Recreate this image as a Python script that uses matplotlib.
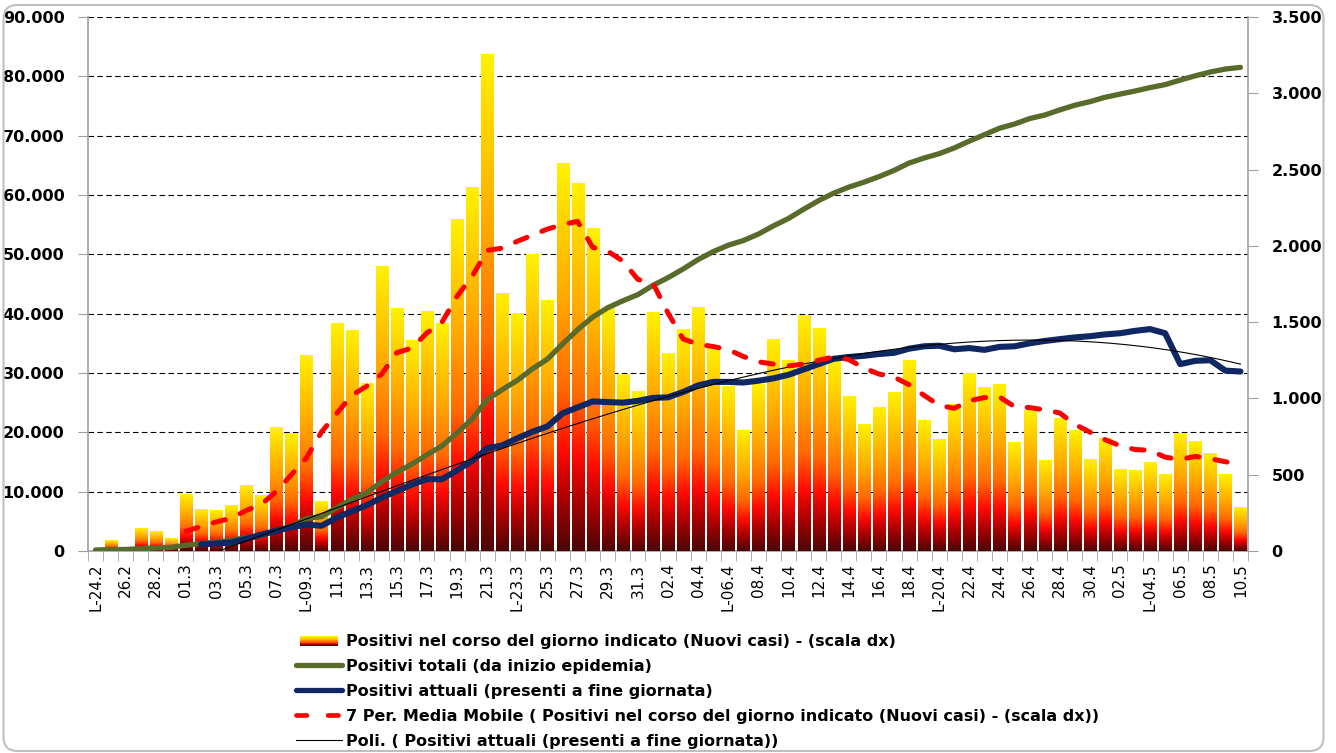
import numpy as np
import matplotlib.pyplot as plt
from matplotlib.colors import LinearSegmentedColormap
from matplotlib.patches import Rectangle, FancyBboxPatch
from matplotlib.lines import Line2D
from matplotlib.legend_handler import HandlerBase
from matplotlib.ticker import FuncFormatter, MultipleLocator
from matplotlib.transforms import IdentityTransform

# ---- dati (24.2 -> 10.5) ----
etichette = ['L-24.2', '26.2', '28.2', '01.3', '03.3', '05.3', '07.3', 'L-09.3',
             '11.3', '13.3', '15.3', '17.3', '19.3', '21.3', 'L-23.3', '25.3',
             '27.3', '29.3', '31.3', '02.4', '04.4', 'L-06.4', '08.4', '10.4',
             '12.4', '14.4', '16.4', '18.4', 'L-20.4', '22.4', '24.4', '26.4',
             '28.4', '30.4', '02.5', 'L-04.5', '06.5', '08.5', '10.5']

# positivi nel corso del giorno (scala dx)
nuovi = [0, 68, 18, 145, 128, 84, 369, 270, 266, 300, 431, 361, 808, 769, 1280,
         322, 1489, 1445, 1095, 1865, 1587, 1377, 1571, 1493, 2171, 2380, 3251,
         1691, 1555, 1942, 1643, 2543, 2409, 2117, 1592, 1154, 1047, 1565, 1292,
         1455, 1598, 1337, 1079, 791, 1089, 1388, 1246, 1544, 1460, 1240, 1012,
         827, 941, 1041, 1246, 854, 729, 960, 1161, 1073, 1091, 711, 920, 590,
         869, 787, 600, 739, 535, 526, 577, 500, 767, 719, 641, 502, 282]

# positivi totali (scala sx)
totali = [172, 240, 258, 403, 531, 615, 984, 1254, 1520, 1820, 2251, 2612, 3420,
          4189, 5469, 5791, 7280, 8725, 9820, 11685, 13272, 14649, 16220, 17713,
          19884, 22264, 25515, 27206, 28761, 30703, 32346, 34889, 37298, 39415,
          41007, 42161, 43208, 44773, 46065, 47520, 49118, 50455, 51534, 52325,
          53414, 54802, 56048, 57592, 59052, 60314, 61326, 62153, 63094, 64135,
          65381, 66235, 66964, 67924, 69085, 70158, 71249, 71960, 72880, 73470,
          74339, 75126, 75726, 76465, 77000, 77526, 78103, 78603, 79370, 80089,
          80730, 81232, 81514]

# positivi attuali (scala sx), dal 02.3
attuali = [np.nan] * 7 + [
    1130, 1250, 1450, 2050, 2750, 3400, 4000, 4450, 4250, 5600, 6700, 7700,
    9000, 10100, 11200, 12100, 12100, 13600, 15200, 17300, 17800, 19000, 20100,
    21000, 23200, 24200, 25200, 25100, 25000, 25300, 25800, 25900, 26800, 27900,
    28500, 28500, 28400, 28700, 29100, 29700, 30600, 31500, 32400, 32700, 32900,
    33200, 33400, 34100, 34500, 34600, 34000, 34200, 33900, 34400, 34500, 35000,
    35400, 35700, 36000, 36200, 36500, 36700, 37100, 37400, 36700, 31500, 32050,
    32150, 30400, 30250]

# media mobile 7 giorni dei nuovi casi (scala dx), dal 01.3
media7 = [np.nan] * 6 + [
    130, 160, 190, 215, 265, 305, 390, 500, 610, 780, 900, 1020, 1080, 1160,
    1300, 1330, 1430, 1500, 1670, 1800, 1970, 1985, 2030, 2070, 2110, 2140,
    2160, 1990, 1965, 1900, 1780, 1755, 1560, 1390, 1355, 1340, 1320, 1275,
    1240, 1225, 1213, 1225, 1250, 1272, 1255, 1200, 1160, 1140, 1090, 1020,
    955, 935, 985, 1005, 1010, 946, 940, 925, 905, 830, 780, 730, 690, 665,
    660, 615, 600, 620, 605, 585, 565]

x = np.arange(len(nuovi))
att = np.array(attuali, dtype=float)

# trendline polinomiale su positivi attuali
ok = ~np.isnan(att)
coef = np.polyfit(x[ok], att[ok], 3)
x_fit = np.linspace(x[ok][0], x[ok][-1], 200)
y_fit = np.polyval(coef, x_fit)

grad_cmap = LinearSegmentedColormap.from_list('barre', [
    (0.0, '#FFF200'), (0.35, '#FFA800'), (0.58, '#FF6A00'),
    (0.74, '#FF0A00'), (0.87, '#A80000'), (1.0, '#4A0606')])

fmt = FuncFormatter(lambda v, p: f'{int(v):,}'.replace(',', '.'))

fig = plt.figure(figsize=(13.36, 7.53), dpi=100)
W, H = 1336, 753
ax = fig.add_axes([88 / W, 1 - 551 / H, (1248 - 88) / W, (551 - 17) / H])
ax_b = ax.twinx()
ax_l = ax.twinx()
ax_m = ax.twinx()

# ---- asse base: scala sx, griglia, etichette x ----
ax.set_ylim(0, 90000)
ax.yaxis.set_major_locator(MultipleLocator(10000))
ax.yaxis.set_major_formatter(fmt)
ax.yaxis.grid(True, color='black', linestyle=(0, (5, 3)), linewidth=0.8)
ax.set_axisbelow(True)
ax.tick_params(axis='y', length=7, color='#A0A0A0', pad=10, labelsize=11.5)
for t in ax.get_yticklabels():
    t.set_fontweight('bold')
ax.set_xticks(x[::2])
ax.set_xticklabels(etichette, rotation=90, fontsize=11)
ax.set_xticks(np.arange(-0.5, len(x), 1), minor=True)
ax.tick_params(axis='x', which='major', length=0, pad=9)
ax.tick_params(axis='x', which='minor', length=7, color='#A0A0A0')
for s in ['top', 'right']:
    ax.spines[s].set_visible(False)
for s in ['left', 'bottom']:
    ax.spines[s].set_color('#A0A0A0')
    ax.spines[s].set_linewidth(1.2)

# ---- barre a gradiente: scala dx ----
bars = ax_b.bar(x, nuovi, width=0.8, color='none', edgecolor='none')
grad = np.linspace(0, 1, 256).reshape(-1, 1)
for r in bars:
    if r.get_height() <= 0:
        continue
    x0, w, h = r.get_x(), r.get_width(), r.get_height()
    ax_b.imshow(grad, cmap=grad_cmap, extent=[x0, x0 + w, 0, h],
                aspect='auto', origin='upper', interpolation='bilinear', zorder=2)
ax_b.set_ylim(0, 3500)
ax_b.yaxis.set_major_locator(MultipleLocator(500))
ax_b.yaxis.set_major_formatter(fmt)
ax_b.tick_params(axis='y', length=7, color='#A0A0A0', pad=10, labelsize=11.5)
for t in ax_b.get_yticklabels():
    t.set_fontweight('bold')
for s in ['top', 'left', 'bottom']:
    ax_b.spines[s].set_visible(False)
ax_b.spines['right'].set_color('#A0A0A0')
ax_b.spines['right'].set_linewidth(1.2)

# ---- linee: scala sx ----
ax_l.plot(x, totali, color='#586B2B', lw=3.8, solid_capstyle='round', zorder=3)
ax_l.plot(x, att, color='#0F2864', lw=4.4, solid_capstyle='round', zorder=4)
ax_l.plot(x_fit, y_fit, color='black', lw=0.8, zorder=5)
ax_l.set_ylim(0, 90000)
ax_l.axis('off')

# ---- media mobile: scala dx ----
ax_m.plot(x, media7, color='#FF0000', lw=3.6, linestyle=(0, (2.5, 3.2)),
          dash_capstyle='round', zorder=6)
ax_m.set_ylim(0, 3500)
ax_m.axis('off')

for a in (ax, ax_b, ax_l, ax_m):
    a.set_xlim(-0.5, len(x) - 0.5)


# ---- legenda ----
class GradHandler(HandlerBase):
    def create_artists(self, legend, orig_handle, xdescent, ydescent, width,
                       height, fontsize, trans):
        n = 12
        arts = []
        hh = height * 0.85
        for k in range(n):
            arts.append(Rectangle((-xdescent + width * 0.08,
                                   -ydescent + hh * (1 - (k + 1) / n)),
                                  width * 0.84, hh / n, facecolor=grad_cmap(k / (n - 1)),
                                  edgecolor='none', transform=trans))
        return arts


h_bar = Rectangle((0, 0), 1, 1)
h_tot = Line2D([], [], color='#586B2B', lw=3.8, solid_capstyle='round')
h_att = Line2D([], [], color='#0F2864', lw=3.8, solid_capstyle='round')
h_med = Line2D([], [], color='#FF0000', lw=3.4, linestyle=(0, (2.2, 4.5)),
               dash_capstyle='round')
h_pol = Line2D([], [], color='black', lw=0.8)
nomi = ['Positivi nel corso del giorno indicato (Nuovi casi) - (scala dx)',
        'Positivi totali (da inizio epidemia)',
        'Positivi attuali (presenti a fine giornata)',
        '7 Per. Media Mobile ( Positivi nel corso del giorno indicato (Nuovi casi) - (scala dx))',
        'Poli. ( Positivi attuali (presenti a fine giornata))']
fig.legend([h_bar, h_tot, h_att, h_med, h_pol], nomi,
           handler_map={Rectangle: GradHandler()},
           loc='upper left', bbox_to_anchor=(296 / W, 1 - 634 / H),
           frameon=False, borderpad=0, borderaxespad=0,
           handlelength=2.85, handletextpad=0.3, labelspacing=0.62,
           prop={'family': 'DejaVu Sans', 'weight': 'bold', 'size': 11.5})

# bordo arrotondato del grafico
fig.patches.append(FancyBboxPatch((3.5, 2), 1320, 746,
                                  boxstyle='round,pad=0,rounding_size=14',
                                  transform=IdentityTransform(), facecolor='none',
                                  edgecolor='#BFBFBF', lw=1.5))

fig.savefig('out.png', dpi=100)
